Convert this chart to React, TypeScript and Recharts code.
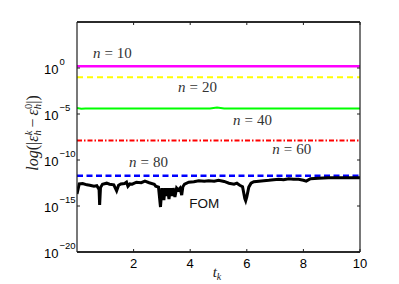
import React from 'react';
import { LineChart, Line, XAxis, YAxis, ReferenceDot, ReferenceLine } from 'recharts';

// ---- axis ticks ----
const xTicks = [2, 4, 6, 8, 10];
const yTickExps = [-20, -15, -10, -5, 0];

// ---- series (t values and log10 of the error) ----
const n10T = [0, 10];
const n10Log = [0.2, 0.2];

const n20T = [0, 10];
const n20Log = [-1.0, -1.0];

const n40T = [0, 0.15, 0.3, 4.7, 4.95, 5.2, 10];
const n40Log = [-4.36, -4.42, -4.39, -4.39, -4.3, -4.39, -4.39];

const n60T = [0, 10];
const n60Log = [-7.88, -7.88];

const n80T = [0, 10];
const n80Log = [-11.7, -11.7];

const fomT = [
  0.0, 0.08, 0.2, 0.35, 0.45, 0.6, 0.7, 0.78, 0.8, 0.83, 0.9, 1.05, 1.15, 1.3, 1.4, 1.47,
  1.55, 1.68, 1.75, 1.8, 1.87, 1.95, 2.1, 2.27, 2.4, 2.55, 2.73, 2.78, 2.88, 2.95, 3.0,
  3.07, 3.11, 3.15, 3.2, 3.25, 3.3, 3.35, 3.4, 3.46, 3.52, 3.58, 3.64, 3.7, 3.74, 3.8,
  3.95, 4.13, 4.3, 4.5, 4.65, 4.85, 5.0, 5.2, 5.37, 5.55, 5.65, 5.75, 5.85, 5.93, 5.96,
  6.0, 6.07, 6.15, 6.25, 6.43, 6.6, 6.78, 6.95, 7.13, 7.3, 7.48, 7.65, 7.83, 8.0, 8.1,
  8.25, 8.53, 8.88, 9.24, 9.6, 10.0,
];
const fomLog = [
  -13.7, -12.6, -12.55, -12.7, -12.74, -12.85, -12.8, -13.2, -14.89, -13.0, -12.63, -12.52,
  -12.63, -12.7, -13.35, -12.75, -12.6, -12.55, -12.41, -12.85, -12.6, -12.63, -12.41,
  -12.47, -12.3, -12.47, -12.63, -12.85, -12.95, -15.11, -13.06, -14.35, -13.06, -13.92,
  -13.06, -14.25, -13.06, -13.92, -13.06, -14.03, -13.06, -13.27, -13.06, -13.82, -12.9,
  -12.63, -12.41, -12.36, -12.25, -12.3, -12.25, -12.3, -12.2, -12.33, -12.52, -12.63,
  -12.52, -12.74, -12.9, -14.2, -14.43, -14.0, -12.95, -12.52, -12.36, -12.3, -12.25,
  -12.2, -12.14, -12.09, -12.14, -12.03, -12.09, -12.09, -12.2, -12.3, -12.03, -11.98,
  -11.93, -11.93, -11.93, -11.93,
];

const toRows = (ts: number[], logs: number[]) => ts.map((t, i) => ({ t, v: Math.pow(10, logs[i]) }));

const yTicks = yTickExps.map((e) => Math.pow(10, e));

const AX = '#1e1e1e';

const BottomTick = (props: any) => {
  const { x, y, payload } = props;
  return (
    <g>
      <line x1={x} y1={y} x2={x} y2={y - 3} stroke={AX} strokeWidth={1} />
      <text x={x} y={y + 16} textAnchor="middle" fontFamily="'Liberation Sans', Arial, sans-serif" fontSize={13} fill="#000">
        {payload.value}
      </text>
    </g>
  );
};

const TopTick = (props: any) => {
  const { x, y } = props;
  return <line x1={x} y1={y} x2={x} y2={y + 3} stroke={AX} strokeWidth={1} />;
};

const LeftTick = (props: any) => {
  const { x, y, payload } = props;
  const exp = Math.round(Math.log10(payload.value));
  const expStr = exp < 0 ? '\u2212' + String(-exp) : String(exp);
  return (
    <g>
      <line x1={x} y1={y} x2={x + 3} y2={y} stroke={AX} strokeWidth={1} />
      <text x={44} y={y + 6.3} textAnchor="start" fontFamily="'Liberation Sans', Arial, sans-serif" fontSize={13} fill="#000">
        10
        <tspan dx={1} dy={-9.3} fontSize={9.5}>
          {expStr}
        </tspan>
      </text>
    </g>
  );
};

const RightTick = (props: any) => {
  const { x, y } = props;
  return <line x1={x} y1={y} x2={x - 3} y2={y} stroke={AX} strokeWidth={1} />;
};

const YTitle = () => (
  <text
    x={38}
    y={133}
    transform="rotate(-90 38 133)"
    textAnchor="middle"
    fontFamily="'Liberation Serif', 'Times New Roman', serif"
    fontSize={16}
    fill="#222"
  >
    <tspan fontStyle="italic">log</tspan>(|
    <tspan fontStyle="italic">ε</tspan>
    <tspan fontStyle="italic" fontSize={10.5} dy={3}>h</tspan>
    <tspan fontStyle="italic" fontSize={10.5} dx={-5} dy={-9}>k</tspan>
    <tspan dx={3} dy={6}>−</tspan>
    <tspan dx={3} fontStyle="italic">ε</tspan>
    <tspan fontStyle="italic" fontSize={10.5} dy={3}>h</tspan>
    <tspan fontSize={10.5} dx={-5} dy={-9}>0</tspan>
    <tspan dy={6}>|)</tspan>
  </text>
);

const XTitle = () => (
  <text x={217} y={277} textAnchor="middle" fontFamily="'Liberation Serif', 'Times New Roman', serif" fontSize={15} fill="#222">
    <tspan fontStyle="italic">t</tspan>
    <tspan fontStyle="italic" fontSize={10} dy={3}>k</tspan>
  </text>
);

const nLabel = (num: string) => (props: any) => {
  const vb = props.viewBox || {};
  const cx = (vb.x ?? 0) + (vb.width ?? 0) / 2;
  const cy = (vb.y ?? 0) + (vb.height ?? 0) / 2;
  return (
    <text x={cx} y={cy} textAnchor="middle" fontFamily="'Liberation Serif', 'Times New Roman', serif" fontSize={15} fill="#333">
      <tspan fontStyle="italic">n</tspan>
      <tspan dx={4}>=</tspan>
      <tspan dx={4}>{num}</tspan>
    </text>
  );
};

const fomLabel = (props: any) => {
  const vb = props.viewBox || {};
  const cx = (vb.x ?? 0) + (vb.width ?? 0) / 2;
  const cy = (vb.y ?? 0) + (vb.height ?? 0) / 2;
  return (
    <text x={cx} y={cy} textAnchor="middle" fontFamily="'Liberation Sans', Arial, sans-serif" fontSize={13.5} fill="#111">
      FOM
    </text>
  );
};

export default function App() {
  return (
    <div style={{ position: 'absolute', left: 0, top: 0, width: 399, height: 284, background: '#fff' }}>
      <LineChart width={399} height={284} margin={{ top: 21, right: 38, bottom: 7, left: 17 }}>
        <XAxis
          xAxisId="b"
          dataKey="t"
          type="number"
          domain={[0, 10]}
          ticks={xTicks}
          interval={0}
          allowDataOverflow
          tickSize={0}
          tickMargin={0}
          tickLine={false}
          axisLine={{ stroke: AX, strokeWidth: 1.5 }}
          tick={<BottomTick />}
          height={25}
          label={<XTitle />}
        />
        <XAxis
          xAxisId="top"
          orientation="top"
          dataKey="t"
          type="number"
          domain={[0, 10]}
          ticks={xTicks}
          interval={0}
          allowDataOverflow
          tickSize={0}
          tickMargin={0}
          tickLine={false}
          axisLine={{ stroke: AX, strokeWidth: 1.5 }}
          tick={<TopTick />}
          height={1}
        />
        <YAxis
          yAxisId="l"
          type="number"
          scale="log"
          domain={[1e-20, 1e5]}
          ticks={yTicks}
          interval={0}
          allowDataOverflow
          tickSize={0}
          tickMargin={0}
          tickLine={false}
          axisLine={{ stroke: AX, strokeWidth: 1.2 }}
          tick={<LeftTick />}
          width={60}
          label={<YTitle />}
        />
        <YAxis
          yAxisId="r"
          orientation="right"
          type="number"
          scale="log"
          domain={[1e-20, 1e5]}
          ticks={yTicks}
          interval={0}
          allowDataOverflow
          tickSize={0}
          tickMargin={0}
          tickLine={false}
          axisLine={{ stroke: AX, strokeWidth: 1.2 }}
          tick={<RightTick />}
          width={1}
        />

        <ReferenceLine xAxisId="b" yAxisId="l" y={1e5} stroke={AX} strokeWidth={1.5} ifOverflow="visible" />
        <ReferenceLine xAxisId="b" yAxisId="l" y={1e-20} stroke={AX} strokeWidth={1.5} ifOverflow="visible" />

        <Line xAxisId="b" yAxisId="l" data={toRows(n10T, n10Log)} dataKey="v" stroke="#ff00ff" strokeWidth={2.5} dot={false} isAnimationActive={false} />
        <Line xAxisId="b" yAxisId="l" data={toRows(n20T, n20Log)} dataKey="v" stroke="#ffff00" strokeWidth={2} strokeDasharray="6 4" dot={false} isAnimationActive={false} />
        <Line xAxisId="b" yAxisId="l" data={toRows(n40T, n40Log)} dataKey="v" stroke="#00ff00" strokeWidth={2} dot={false} isAnimationActive={false} />
        <Line xAxisId="b" yAxisId="l" data={toRows(n60T, n60Log)} dataKey="v" stroke="#ff0000" strokeWidth={2} strokeDasharray="5 2 1.5 2" dot={false} isAnimationActive={false} />
        <Line xAxisId="b" yAxisId="l" data={toRows(n80T, n80Log)} dataKey="v" stroke="#0000ff" strokeWidth={2.5} strokeDasharray="6 3.5" dot={false} isAnimationActive={false} />
        <Line xAxisId="b" yAxisId="l" data={toRows(fomT, fomLog)} dataKey="v" stroke="#000000" strokeWidth={3} strokeLinejoin="miter" dot={false} isAnimationActive={false} />

        <ReferenceDot xAxisId="b" yAxisId="l" x={1.25} y={Math.pow(10, 1.11)} r={0} fill="none" stroke="none" label={nLabel('10')} />
        <ReferenceDot xAxisId="b" yAxisId="l" x={4.26} y={Math.pow(10, -2.56)} r={0} fill="none" stroke="none" label={nLabel('20')} />
        <ReferenceDot xAxisId="b" yAxisId="l" x={6.2} y={Math.pow(10, -6.15)} r={0} fill="none" stroke="none" label={nLabel('40')} />
        <ReferenceDot xAxisId="b" yAxisId="l" x={7.59} y={Math.pow(10, -9.31)} r={0} fill="none" stroke="none" label={nLabel('60')} />
        <ReferenceDot xAxisId="b" yAxisId="l" x={2.53} y={Math.pow(10, -10.76)} r={0} fill="none" stroke="none" label={nLabel('80')} />
        <ReferenceDot xAxisId="b" yAxisId="l" x={4.5} y={Math.pow(10, -15.25)} r={0} fill="none" stroke="none" label={fomLabel} />
      </LineChart>
    </div>
  );
}
